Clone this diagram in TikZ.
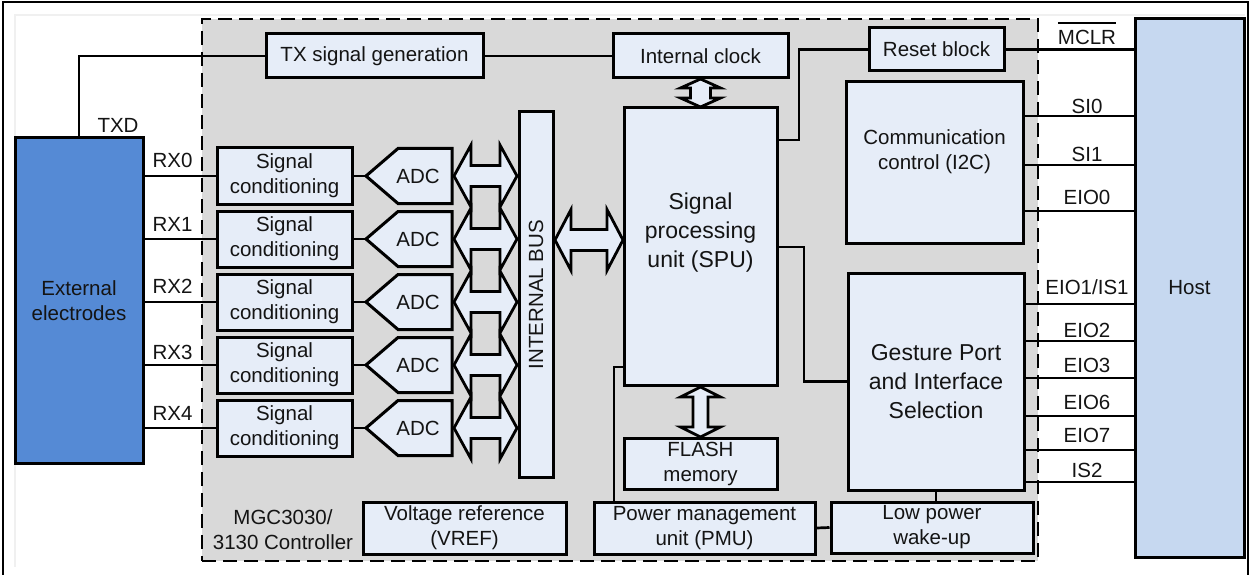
\documentclass[tikz,border=0pt]{standalone}
\usepackage{fontspec}
\setmainfont{Liberation Sans}
\usetikzlibrary{calc}
\definecolor{boxfill}{RGB}{230,237,248}
\definecolor{ctrlgray}{RGB}{217,217,217}
\definecolor{hostblue}{RGB}{198,216,240}
\definecolor{extblue}{RGB}{85,138,213}
\definecolor{txt}{RGB}{20,20,20}
\newcommand\normfont{\fontsize{20.5}{25}\selectfont}
\newcommand\bigfont{\fontsize{23}{29}\selectfont}
% x1 x2 y shafthalf headhalf headlen
\newcommand\hdarrow[6]{%
 \draw[blockarrow] (#1,#3) -- ({#1+#6},{#3-#5}) -- ({#1+#6},{#3-#4}) -- ({#2-#6},{#3-#4}) -- ({#2-#6},{#3-#5}) -- (#2,#3) -- ({#2-#6},{#3+#5}) -- ({#2-#6},{#3+#4}) -- ({#1+#6},{#3+#4}) -- ({#1+#6},{#3+#5}) -- cycle;}
% y1 y2 x shafthalf headhalf headlen
\newcommand\vdarrow[6]{%
 \draw[blockarrow] (#3,#1) -- ({#3+#5},{#1+#6}) -- ({#3+#4},{#1+#6}) -- ({#3+#4},{#2-#6}) -- ({#3+#5},{#2-#6}) -- (#3,#2) -- ({#3-#5},{#2-#6}) -- ({#3-#4},{#2-#6}) -- ({#3-#4},{#1+#6}) -- ({#3-#5},{#1+#6}) -- cycle;}
\tikzset{
  bx/.style 2 args={minimum width=#1pt, minimum height=#2pt},
  box/.style={draw=black, line width=3pt, fill=boxfill, inner sep=0pt, align=center, text=txt},
  adcshape/.style={draw=black, line width=3pt, fill=boxfill, line join=miter},
  wire/.style={draw=black, line width=2.7pt},
  blockarrow/.style={draw=black, line width=2.8pt, fill=boxfill, line join=miter},
  lbl/.style={anchor=base, inner sep=0pt, text=txt},
  txtnode/.style={align=center, inner sep=0pt, text=txt},
}
\begin{document}
\begin{tikzpicture}[x=1pt, y=-1pt, font=\normfont]
\useasboundingbox (0,0) rectangle (1250,575);
% frame
\draw[gray!12, line width=1.5pt] (15,567) -- (15,15) -- (1245,15);
\draw[line width=2pt] (3,577) -- (3,2) -- (1248,2) -- (1248,577);
% controller region
\node[draw=black, fill=ctrlgray, line width=2.6pt, dash pattern=on 14pt off 7pt, bx={836}{542}] (ctrl) at (620,290) {};
\node[txtnode] (mgc) at (283,530) {MGC3030/\\3130 Controller};
% outer blocks
\node[box, fill=extblue, bx={128}{325}] (ext) at (79,300.5) {External\\electrodes};
\node[box, fill=hostblue, bx={109}{538}] (host) at (1189.5,288) {Host};
% internal blocks
\node[box, bx={217}{44}] (txgen) at (374.5,56) {TX signal generation};
\node[box, bx={175}{44}] (clock) at (700.5,56) {Internal clock};
\node[box, bx={135}{43}] (reset) at (936.5,49.5) {Reset block};
\foreach \i/\y in {0/176,1/239,2/302,3/365,4/428}{
  \node[box, bx={135}{56}] (sc\i) at (284.5,\y) {Signal\\conditioning};
  \coordinate (adctip\i) at (366,\y);
  \draw[adcshape] (adctip\i) -- (398,{\y-27.5}) -- (452,{\y-27.5}) -- (452,{\y+27.5}) -- (398,{\y+27.5}) -- cycle;
  \node[txtnode] (adc\i) at (418,\y) {ADC};
}
\node[box, bx={34}{365}] (bus) at (536,294.5) {};
\node[txtnode, rotate=90] (buslbl) at (bus.center) {INTERNAL BUS};
\node[box, bx={153}{277}] (spu) at (700.5,246.5) {};
\node[txtnode, font=\bigfont] (spulbl) at (700.5,233) {Signal\\processing\\unit (SPU)};
\node[box, bx={153}{51}] (flash) at (700.5,463.5) {FLASH\\memory};
\node[box, bx={203}{52}] (vref) at (464.5,528) {Voltage reference\\(VREF)};
\node[box, bx={221}{52}] (pmu) at (704.5,528) {Power management\\unit (PMU)};
\node[box, bx={202}{51}] (lpw) at (932,527.5) {Low power\\wake-up};
\node[box, bx={177}{161}] (comm) at (934.5,162.5) {};
\node[txtnode] (commlbl) at (934.5,152) {Communication\\control (I2C)};
\node[box, bx={176}{217}, font=\bigfont] (gest) at (936,381.5) {Gesture Port\\and Interface\\Selection};
% block arrows
\foreach \y in {176,239,302,365,428}{\hdarrow{454}{517}{\y}{10.5}{31}{17}}
\hdarrow{555}{623}{240}{10.5}{30.5}{16}
\vdarrow{79}{107}{700.5}{10}{20}{9}
\vdarrow{387}{437}{700.5}{7.5}{20}{10}
% wires
\draw[wire] (ext.north) |- (txgen.west);
\draw[wire] (txgen.east) -- (clock.west);
\foreach \i in {0,...,4}{
  \draw[wire] (sc\i.west -| ext.east) -- (sc\i.west);
  \draw[wire] (sc\i.east) -- (adctip\i);
}
\coordinate (jr) at (799,140);
\draw[wire] (spu.east |- jr) -- (jr) |- (reset.west);
\draw[wire] (reset.east) -- (reset.east -| host.west);
\coordinate (jg) at (804,247);
\draw[wire] (spu.east |- jg) -- (jg) |- (gest.west);
\coordinate (jp) at (614,367);
\draw[wire] (spu.west |- jp) -- (jp) -- (jp |- pmu.north);
\draw[wire] (pmu.east) -- (lpw.west);
\draw[wire] (gest.south) -- (gest.south |- lpw.north);
\foreach \y in {116,165,211}{
  \coordinate (c) at (1000,\y);
  \draw[wire] (comm.east |- c) -- (host.west |- c);
}
\foreach \y in {304,341,378,416,450,482}{
  \coordinate (c) at (1000,\y);
  \draw[wire] (gest.east |- c) -- (host.west |- c);
}
% labels
\node[lbl] (txd) at (118,132.3) {TXD};
\node[lbl] (rx0) at (172.5,167.3) {RX0};
\node[lbl] (rx1) at (172.5,231.8) {RX1};
\node[lbl] (rx2) at (172.5,293.8) {RX2};
\node[lbl] (rx3) at (172.5,359.8) {RX3};
\node[lbl] (rx4) at (172.5,420.8) {RX4};
\node[lbl] (mclr) at (1087,44.8) {MCLR};
\draw[line width=1.8pt] ([yshift=7.5pt]mclr.north west) -- ([yshift=7.5pt]mclr.north east);
\node[lbl] (si0) at (1087,113.3) {SI0};
\node[lbl] (si1) at (1087,161.3) {SI1};
\node[lbl] (eio0) at (1087,204.3) {EIO0};
\node[lbl] (eio1) at (1087,294.8) {EIO1/IS1};
\node[lbl] (eio2) at (1087,337.3) {EIO2};
\node[lbl] (eio3) at (1087,372.3) {EIO3};
\node[lbl] (eio6) at (1087,409.3) {EIO6};
\node[lbl] (eio7) at (1087,442.8) {EIO7};
\node[lbl] (is2) at (1087,477.8) {IS2};
\end{tikzpicture}
\end{document}
